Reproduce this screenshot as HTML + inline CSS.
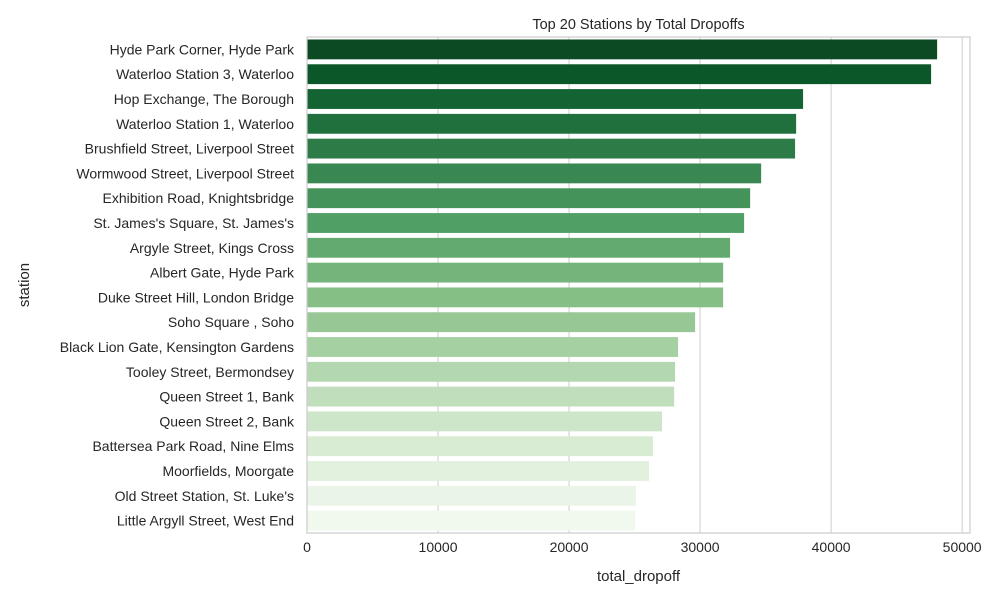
<!DOCTYPE html>
<html><head><meta charset="utf-8"><style>
html,body{margin:0;padding:0;background:#fff;}
svg{display:block;font-family:"Liberation Sans",Arial,sans-serif;}
</style></head><body>
<svg id="chart" width="1000" height="600"></svg>
<script>
const stations=["Hyde Park Corner, Hyde Park","Waterloo Station 3, Waterloo","Hop Exchange, The Borough","Waterloo Station 1, Waterloo","Brushfield Street, Liverpool Street","Wormwood Street, Liverpool Street","Exhibition Road, Knightsbridge","St. James's Square, St. James's","Argyle Street, Kings Cross","Albert Gate, Hyde Park","Duke Street Hill, London Bridge","Soho Square , Soho","Black Lion Gate, Kensington Gardens","Tooley Street, Bermondsey","Queen Street 1, Bank","Queen Street 2, Bank","Battersea Park Road, Nine Elms","Moorfields, Moorgate","Old Street Station, St. Luke's","Little Argyll Street, West End"];
const dropoffs=[48090,47630,37860,37330,37250,34660,33820,33360,32290,31760,31760,29620,28320,28090,28020,27100,26410,26110,25110,25040];
const xTicks=[0,10000,20000,30000,40000,50000];
const xTickLabels=["0","10000","20000","30000","40000","50000"];

const NS="http://www.w3.org/2000/svg";
const svg=document.getElementById('chart');
const L=307,R=970,T=37,B=533,xMax=50600;
const x=v=>L+v/xMax*(R-L);
const band=(B-T)/stations.length;
const y=i=>T+i*band;
function mk(t,a){const e=document.createElementNS(NS,t);for(const k in a)e.setAttribute(k,a[k]);svg.appendChild(e);return e;}
const stops=[[247,252,245],[229,245,224],[199,233,192],[161,217,155],[116,196,118],[65,171,93],[35,139,69],[0,109,44],[0,68,27]];
function desat(c,s){
  const [r,g,b]=c.map(v=>v/255);const mx=Math.max(r,g,b),mn=Math.min(r,g,b);const l=(mx+mn)/2;
  if(mx===mn)return c;
  const d=mx-mn;let S=l>0.5?d/(2-mx-mn):d/(mx+mn);let h;
  if(mx===r)h=((g-b)/d+(g<b?6:0));else if(mx===g)h=(b-r)/d+2;else h=(r-g)/d+4;h/=6;
  S*=s;
  const q=l<0.5?l*(1+S):l+S-l*S,p=2*l-q;
  const f=t=>{if(t<0)t+=1;if(t>1)t-=1;if(t<1/6)return p+(q-p)*6*t;if(t<1/2)return q;if(t<2/3)return p+(q-p)*(2/3-t)*6;return p;};
  return [f(h+1/3),f(h),f(h-1/3)].map(v=>Math.round(v*255));
}
function green(t){const p=t*(stops.length-1);const i=Math.min(Math.floor(p),stops.length-2);const f=p-i;const c=stops[i].map((v,k)=>Math.round(v+(stops[i+1][k]-v)*f));return `rgb(${desat(c,0.75)})`;}
xTicks.forEach((v,i)=>{
  const g=mk('line',{x1:x(v),x2:x(v),y1:T,y2:B,stroke:'#cccccc','stroke-width':1});
  
  
  const t=mk('text',{x:x(v),y:B+19,'text-anchor':'middle','font-size':14,fill:'#262626'});
  t.textContent=xTickLabels[i];
  
  
});
const n=stations.length;
stations.forEach((s,i)=>{
  const c=green(1-(i+1)/(n+1));
  const r=mk('rect',{x:x(0),y:y(i)+band*0.1,width:x(dropoffs[i])-x(0),height:band*0.8,fill:c});
  
  
  const t=mk('text',{x:L-13,y:y(i)+band/2+5,'text-anchor':'end','font-size':14,fill:'#262626'});
  t.textContent=s;
  
  
});
const fr=mk('rect',{x:L,y:T,width:R-L,height:B-T,fill:'none',stroke:'#cccccc','stroke-width':1.2});


const title=mk('text',{x:(L+R)/2,y:29,'text-anchor':'middle','font-size':14.5,fill:'#262626'});
title.textContent='Top 20 Stations by Total Dropoffs';


const xt=mk('text',{x:(L+R)/2,y:581,'text-anchor':'middle','font-size':15,fill:'#262626'});
xt.textContent='total_dropoff';


const yt=mk('text',{x:29,y:(T+B)/2,'text-anchor':'middle','font-size':15,fill:'#262626',transform:`rotate(-90 29 ${(T+B)/2})`});
yt.textContent='station';


</script>
</body></html>
